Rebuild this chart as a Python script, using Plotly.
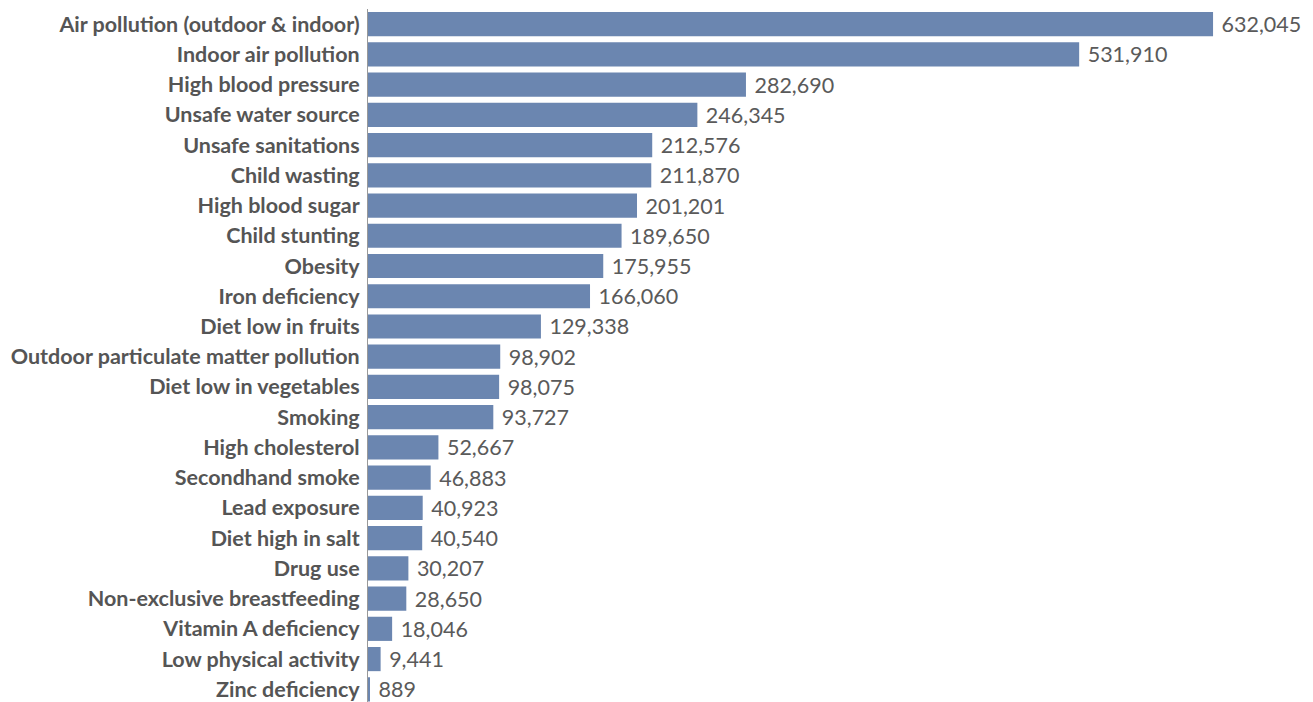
import plotly.graph_objects as go

categories = [
    "Air pollution (outdoor & indoor)", "Indoor air pollution", "High blood pressure",
    "Unsafe water source", "Unsafe sanitations", "Child wasting", "High blood sugar",
    "Child stunting", "Obesity", "Iron deficiency", "Diet low in fruits",
    "Outdoor particulate matter pollution", "Diet low in vegetables", "Smoking",
    "High cholesterol", "Secondhand smoke", "Lead exposure", "Diet high in salt",
    "Drug use", "Non-exclusive breastfeeding", "Vitamin A deficiency",
    "Low physical activity", "Zinc deficiency",
]
values = [
    632045, 531910, 282690, 246345, 212576, 211870, 201201, 189650, 175955, 166060,
    129338, 98902, 98075, 93727, 52667, 46883, 40923, 40540, 30207, 28650, 18046,
    9441, 889,
]
value_labels = [f"\u00a0{v:,}" for v in values]

fig = go.Figure(go.Bar(
    x=values, y=categories, orientation="h",
    marker=dict(color="#6b86b0", line=dict(width=0)),
    width=0.8,
    text=value_labels, textposition="outside", cliponaxis=False,
    constraintext="none",
    textfont=dict(family="Lato", size=21.5, color="#5a5a5a"),
    hoverinfo="skip",
))

fig.update_layout(
    width=1313, height=702,
    margin=dict(l=368, r=0, t=9, b=0),
    paper_bgcolor="white", plot_bgcolor="white",
    showlegend=False,
    uniformtext=dict(mode=False),
)
fig.update_xaxes(range=[0, 706800], visible=False, showgrid=False, zeroline=False)
fig.update_yaxes(
    range=[22.42, -0.5], showgrid=False, zeroline=False,
    showline=True, linecolor="#999999", linewidth=1,
    ticks="", ticklabelstandoff=3,
    tickfont=dict(family="Lato", size=21.5, color="#555555", weight="bold"),
)

fig.write_html("out.html")
